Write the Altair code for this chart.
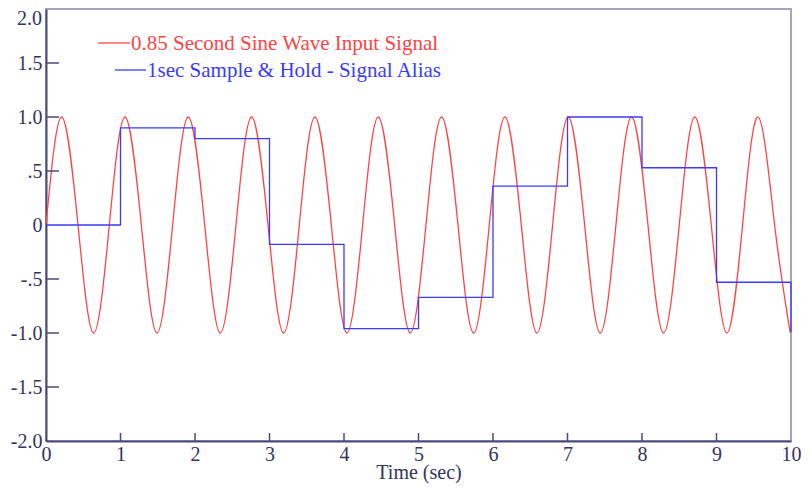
import altair as alt
import pandas as pd

# Red input signal: quarter-period points (peaks, zero crossings, troughs)
sine_t = [0.00, 0.21, 0.43, 0.64, 0.85, 1.06, 1.28, 1.49, 1.70, 1.91, 2.13, 2.34,
          2.55, 2.76, 2.98, 3.19, 3.40, 3.61, 3.83, 4.04, 4.25, 4.46, 4.68, 4.89,
          5.10, 5.31, 5.53, 5.74, 5.95, 6.16, 6.38, 6.59, 6.80, 7.01, 7.23, 7.44,
          7.65, 7.86, 8.08, 8.29, 8.50, 8.71, 8.93, 9.14, 9.35, 9.56, 9.78, 9.99]
sine_v = [0, 1, 0, -1, 0, 1, 0, -1, 0, 1, 0, -1,
          0, 1, 0, -1, 0, 1, 0, -1, 0, 1, 0, -1,
          0, 1, 0, -1, 0, 1, 0, -1, 0, 1, 0, -1,
          0, 1, 0, -1, 0, 1, 0, -1, 0, 1, 0, -1]

# Blue sample & hold values
hold_t = [0, 1, 2, 3, 4, 5, 6, 7, 8, 9, 10]
hold_v = [0.0, 0.90, 0.80, -0.18, -0.96, -0.67, 0.36, 1.00, 0.53, -0.53, -0.99]

x_ticks = [0, 1, 2, 3, 4, 5, 6, 7, 8, 9, 10]
x_inner_ticks = [1, 2, 3, 4, 5, 6, 7, 8, 9]
y_ticks = [-2.0, -1.5, -1.0, -0.5, 0.0, 0.5, 1.0, 1.5]
y_tick_labels = ["-2.0", "-1.5", "-1.0", "-.5", "0", ".5", "1.0", "1.5"]
y_top_label = ["2.0"]
y_top_value = [2.0]
y_inner_ticks = [-1.5, -1.0, -0.5, 0.5, 1.0, 1.5]

legend_labels = ["0.85 Second Sine Wave Input Signal", "1sec Sample & Hold - Signal Alias"]

RED = "#ff4444"
BLUE = "#3b3bff"
NAVY = "#4a4a7c"
LABEL = "#33335f"
FONT = "Liberation Serif"

W, H = 745, 432

sine_df = pd.DataFrame({"t": sine_t, "v": sine_v})
hold_df = pd.DataFrame({"t": hold_t, "v": hold_v})

xscale = alt.Scale(domain=[0, 10], nice=False, zero=False)
yscale = alt.Scale(domain=[-2, 2], nice=False, zero=False)

label_expr = " : ".join(
    f"datum.value == {v} ? '{l}'" for v, l in zip(y_ticks, y_tick_labels)
) + " : ''"

xaxis = alt.Axis(values=x_ticks, ticks=False, grid=False, domainColor=NAVY, domainWidth=2,
                 labelFont=FONT, labelFontSize=20, labelColor=LABEL, labelPadding=3,
                 labelExpr="format(datum.value, 'd')", labelFlush=False,
                 title="Time (sec)", titleFont=FONT, titleFontSize=20, titleFontWeight="normal",
                 titleColor=LABEL, titlePadding=-2)
yaxis = alt.Axis(values=y_ticks, ticks=False, grid=False, domainColor=NAVY, domainWidth=2,
                 labelFont=FONT, labelFontSize=20, labelColor=LABEL, labelPadding=4,
                 labelExpr=label_expr, labelFlush=False, title="")

sine = alt.Chart(sine_df).mark_line(color=RED, strokeWidth=1.3, interpolate="natural").encode(
    x=alt.X("t:Q", scale=xscale, axis=xaxis),
    y=alt.Y("v:Q", scale=yscale, axis=yaxis),
)

hold = alt.Chart(hold_df).mark_line(color=BLUE, strokeWidth=1.3, interpolate="step-after").encode(
    x=alt.X("t:Q", scale=xscale),
    y=alt.Y("v:Q", scale=yscale),
)

ytick_layer = alt.Chart(pd.DataFrame({"v": y_inner_ticks})).mark_rule(color=NAVY, strokeWidth=1.5).encode(
    y=alt.Y("v:Q", scale=yscale),
    x=alt.value(0), x2=alt.value(13),
)
xtick_layer = alt.Chart(pd.DataFrame({"t": x_inner_ticks})).mark_rule(color=NAVY, strokeWidth=1.5).encode(
    x=alt.X("t:Q", scale=xscale),
    y=alt.value(H), y2=alt.value(H - 8),
)

top_label = alt.Chart(pd.DataFrame({"v": y_top_value, "label": y_top_label})).mark_text(
    color=LABEL, font=FONT, fontSize=20, align="right", baseline="top", dy=0).encode(
    y=alt.Y("v:Q", scale=yscale), x=alt.value(-4), text="label:N")

leg1_line = alt.Chart(pd.DataFrame({"a": [0]})).mark_rule(color=RED, strokeWidth=1.3).encode(
    x=alt.value(52), x2=alt.value(84), y=alt.value(34))
leg1_text = alt.Chart(pd.DataFrame({"label": [legend_labels[0]]})).mark_text(
    color=RED, font=FONT, fontSize=21, align="left", baseline="middle").encode(
    x=alt.value(85), y=alt.value(35), text="label:N")
leg2_line = alt.Chart(pd.DataFrame({"a": [0]})).mark_rule(color=BLUE, strokeWidth=1.3).encode(
    x=alt.value(69), x2=alt.value(100), y=alt.value(61))
leg2_text = alt.Chart(pd.DataFrame({"label": [legend_labels[1]]})).mark_text(
    color=BLUE, font=FONT, fontSize=21, align="left", baseline="middle").encode(
    x=alt.value(101), y=alt.value(62), text="label:N")

chart = alt.layer(
    sine, hold, ytick_layer, xtick_layer, top_label, leg1_line, leg1_text, leg2_line, leg2_text
).properties(
    width=W, height=H,
    autosize=alt.AutoSizeParams(type="none"),
    padding={"left": 38, "top": 1, "right": 10, "bottom": 42},
).configure_view(
    stroke="#a4a4c0", strokeWidth=2
)

chart.save("out.html", embed_options={"renderer": "svg", "actions": False})
